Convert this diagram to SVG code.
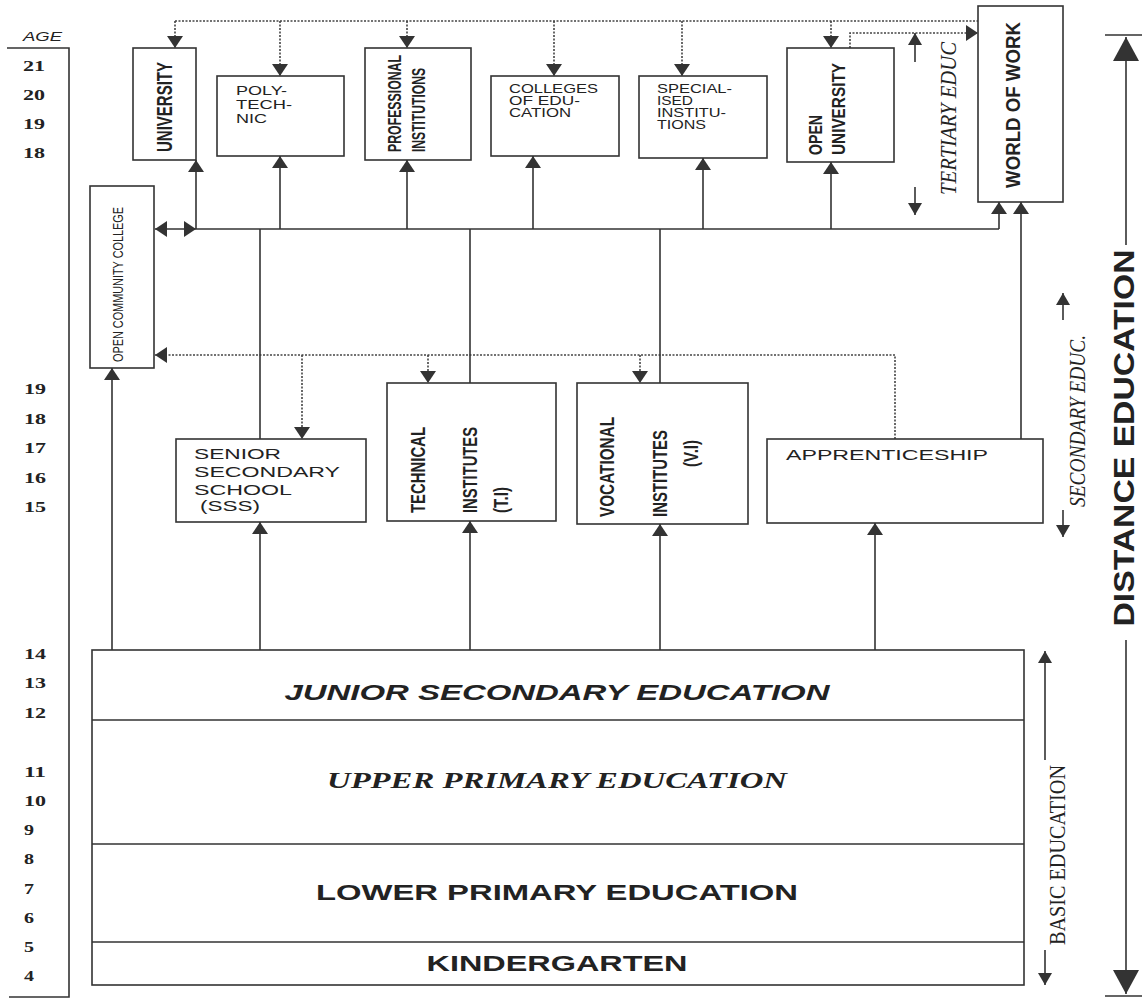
<svg xmlns="http://www.w3.org/2000/svg" width="1142" height="1000" viewBox="0 0 1142 1000">
<style>
.bx{fill:#fff;stroke:#333;stroke-width:1.6}
.ln{fill:none;stroke:#333;stroke-width:1.6}
.dt{fill:none;stroke:#444;stroke-width:1.6;stroke-dasharray:2 1.5}
.ax{fill:none;stroke:#333;stroke-width:1.6}
.age{font-family:"Liberation Serif",serif;font-weight:bold;font-size:15px;fill:#222}
.s{font-family:"Liberation Sans",Arial,sans-serif;fill:#222}
.sb{font-family:"Liberation Sans",Arial,sans-serif;font-weight:bold;fill:#222}
.ti{font-family:"Liberation Serif",serif;font-style:italic;fill:#222}
.tr{font-family:"Liberation Serif",serif;fill:#222}
</style>
<defs>
<marker id="ah" viewBox="0 0 12 16" refX="12" refY="8" markerWidth="12" markerHeight="16" markerUnits="userSpaceOnUse" orient="auto-start-reverse"><path d="M0,0 L12,8 L0,16 z" fill="#333"/></marker>
<marker id="ahs" viewBox="0 0 12 14" refX="12" refY="7" markerWidth="12" markerHeight="14" markerUnits="userSpaceOnUse" orient="auto-start-reverse"><path d="M0,0 L12,7 L0,14 z" fill="#333"/></marker>
<marker id="ahb" viewBox="0 0 24 26" refX="24" refY="13" markerWidth="24" markerHeight="26" markerUnits="userSpaceOnUse" orient="auto-start-reverse"><path d="M0,0 L24,13 L0,26 z" fill="#333"/></marker>
</defs>
<rect width="1142" height="1000" fill="#fff"/>

<g id="age-axis">
<text x="23" y="41" class="s" font-style="italic" font-size="12" textLength="39" lengthAdjust="spacingAndGlyphs">AGE</text>
<path class="ax" d="M7,48 H69 V997 H9"/>
<text class="age" x="23" y="71" textLength="22" lengthAdjust="spacingAndGlyphs">21</text>
<text class="age" x="23" y="100" textLength="22" lengthAdjust="spacingAndGlyphs">20</text>
<text class="age" x="23" y="129" textLength="22" lengthAdjust="spacingAndGlyphs">19</text>
<text class="age" x="23" y="158" textLength="22" lengthAdjust="spacingAndGlyphs">18</text>
<text class="age" x="24" y="394" textLength="22" lengthAdjust="spacingAndGlyphs">19</text>
<text class="age" x="24" y="424" textLength="22" lengthAdjust="spacingAndGlyphs">18</text>
<text class="age" x="24" y="453" textLength="22" lengthAdjust="spacingAndGlyphs">17</text>
<text class="age" x="24" y="483" textLength="22" lengthAdjust="spacingAndGlyphs">16</text>
<text class="age" x="24" y="512" textLength="22" lengthAdjust="spacingAndGlyphs">15</text>
<text class="age" x="24" y="659" textLength="22" lengthAdjust="spacingAndGlyphs">14</text>
<text class="age" x="24" y="688" textLength="22" lengthAdjust="spacingAndGlyphs">13</text>
<text class="age" x="24" y="718" textLength="22" lengthAdjust="spacingAndGlyphs">12</text>
<text class="age" x="24" y="777" textLength="22" lengthAdjust="spacingAndGlyphs">11</text>
<text class="age" x="24" y="806" textLength="22" lengthAdjust="spacingAndGlyphs">10</text>
<text class="age" x="24" y="835" textLength="10" lengthAdjust="spacingAndGlyphs">9</text>
<text class="age" x="24" y="864" textLength="10" lengthAdjust="spacingAndGlyphs">8</text>
<text class="age" x="24" y="894" textLength="10" lengthAdjust="spacingAndGlyphs">7</text>
<text class="age" x="24" y="923" textLength="10" lengthAdjust="spacingAndGlyphs">6</text>
<text class="age" x="24" y="952" textLength="10" lengthAdjust="spacingAndGlyphs">5</text>
<text class="age" x="24" y="981" textLength="10" lengthAdjust="spacingAndGlyphs">4</text>
</g>

<g id="connectors">
<path class="dt" d="M175,21 H978"/>
<path class="dt" d="M175,21 V48" marker-end="url(#ah)"/>
<path class="dt" d="M280,21 V76" marker-end="url(#ah)"/>
<path class="dt" d="M407,21 V48" marker-end="url(#ah)"/>
<path class="dt" d="M554,21 V76" marker-end="url(#ah)"/>
<path class="dt" d="M682,21 V76" marker-end="url(#ah)"/>
<path class="dt" d="M831,21 V48" marker-end="url(#ah)"/>
<path class="dt" d="M850,48 V33 H978" marker-end="url(#ah)"/>
<path class="dt" d="M895,439 V355 H155" marker-end="url(#ah)"/>
<path class="dt" d="M302,355 V439" marker-end="url(#ah)"/>
<path class="dt" d="M428,355 V383" marker-end="url(#ah)"/>
<path class="dt" d="M640,355 V383" marker-end="url(#ah)"/>
<path class="ln" d="M196,229 H999"/>
<path class="ln" d="M155,229 H196" marker-start="url(#ah)" marker-end="url(#ah)"/>
<path class="ln" d="M196,229 V160" marker-end="url(#ah)"/>
<path class="ln" d="M280,229 V156" marker-end="url(#ah)"/>
<path class="ln" d="M407,229 V160" marker-end="url(#ah)"/>
<path class="ln" d="M533,229 V156" marker-end="url(#ah)"/>
<path class="ln" d="M703,229 V158" marker-end="url(#ah)"/>
<path class="ln" d="M831,229 V162" marker-end="url(#ah)"/>
<path class="ln" d="M999,229 V202" marker-end="url(#ah)"/>
<path class="ln" d="M1021,439 V202" marker-end="url(#ah)"/>
<path class="ln" d="M260,229 V439"/>
<path class="ln" d="M470,229 V383"/>
<path class="ln" d="M660,229 V383"/>
<path class="ln" d="M112,650 V368" marker-end="url(#ah)"/>
<path class="ln" d="M260,650 V522" marker-end="url(#ah)"/>
<path class="ln" d="M470,650 V521" marker-end="url(#ah)"/>
<path class="ln" d="M660,650 V524" marker-end="url(#ah)"/>
<path class="ln" d="M875,650 V523" marker-end="url(#ah)"/>
</g>

<g id="university">
<rect class="bx" x="133" y="48" width="63" height="112"/>
<text class="sb" font-size="22" text-anchor="middle" transform="translate(172,107) rotate(-90)" textLength="90" lengthAdjust="spacingAndGlyphs">UNIVERSITY</text>
</g>
<g id="polytechnic">
<rect class="bx" x="217" y="76" width="127" height="80"/>
<text class="s" font-size="13"><tspan x="236" y="95" textLength="51" lengthAdjust="spacingAndGlyphs">POLY-</tspan><tspan x="236" y="109" textLength="56" lengthAdjust="spacingAndGlyphs">TECH-</tspan><tspan x="236" y="123" textLength="31" lengthAdjust="spacingAndGlyphs">NIC</tspan></text>
</g>
<g id="professional-institutions">
<rect class="bx" x="365" y="48" width="106" height="112"/>
<text class="sb" font-size="19" text-anchor="middle" transform="translate(401,103.5) rotate(-90)" textLength="97" lengthAdjust="spacingAndGlyphs">PROFESSIONAL</text>
<text class="sb" font-size="19" text-anchor="middle" transform="translate(425,110) rotate(-90)" textLength="84" lengthAdjust="spacingAndGlyphs">INSTITUTIONS</text>
</g>
<g id="colleges-of-education">
<rect class="bx" x="491" y="76" width="128" height="80"/>
<text class="s" font-size="12"><tspan x="509" y="93" textLength="89" lengthAdjust="spacingAndGlyphs">COLLEGES</tspan><tspan x="509" y="105" textLength="71" lengthAdjust="spacingAndGlyphs">OF EDU-</tspan><tspan x="509" y="117" textLength="62" lengthAdjust="spacingAndGlyphs">CATION</tspan></text>
</g>
<g id="specialised-institutions">
<rect class="bx" x="639" y="76" width="128" height="82"/>
<text class="s" font-size="12"><tspan x="657" y="93" textLength="75" lengthAdjust="spacingAndGlyphs">SPECIAL-</tspan><tspan x="657" y="105" textLength="36" lengthAdjust="spacingAndGlyphs">ISED</tspan><tspan x="657" y="117" textLength="69" lengthAdjust="spacingAndGlyphs">INSTITU-</tspan><tspan x="657" y="129" textLength="49" lengthAdjust="spacingAndGlyphs">TIONS</tspan></text>
</g>
<g id="open-university">
<rect class="bx" x="787" y="48" width="107" height="114"/>
<text class="sb" font-size="18" text-anchor="middle" transform="translate(822,135) rotate(-90)" textLength="40" lengthAdjust="spacingAndGlyphs">OPEN</text>
<text class="sb" font-size="18" text-anchor="middle" transform="translate(845,109) rotate(-90)" textLength="92" lengthAdjust="spacingAndGlyphs">UNIVERSITY</text>
</g>
<g id="world-of-work">
<rect class="bx" x="978" y="6" width="85" height="196"/>
<text class="sb" font-size="21" text-anchor="middle" transform="translate(1020,105) rotate(-90)" textLength="166" lengthAdjust="spacingAndGlyphs">WORLD OF WORK</text>
</g>
<g id="tertiary-educ">
<path class="ln" d="M915,62 V33" marker-end="url(#ahs)"/>
<path class="ln" d="M915,187 V215" marker-end="url(#ahs)"/>
<text class="ti" font-size="24" text-anchor="middle" transform="translate(956,118.5) rotate(-90)" textLength="153" lengthAdjust="spacingAndGlyphs">TERTIARY EDUC</text>
</g>
<g id="open-community-college">
<rect class="bx" x="90" y="186" width="64" height="182"/>
<text class="s" font-size="14" text-anchor="middle" transform="translate(123,284.5) rotate(-90)" textLength="155" lengthAdjust="spacingAndGlyphs">OPEN COMMUNITY COLLEGE</text>
</g>
<g id="senior-secondary-school">
<rect class="bx" x="176" y="439" width="190" height="83"/>
<text class="s" font-size="14"><tspan x="194" y="459" textLength="87" lengthAdjust="spacingAndGlyphs">SENIOR</tspan><tspan x="194" y="477" textLength="146" lengthAdjust="spacingAndGlyphs">SECONDARY</tspan><tspan x="194" y="495" textLength="98" lengthAdjust="spacingAndGlyphs">SCHOOL</tspan><tspan x="200" y="511" textLength="60" lengthAdjust="spacingAndGlyphs">(SSS)</tspan></text>
</g>
<g id="technical-institutes">
<rect class="bx" x="387" y="383" width="169" height="138"/>
<text class="sb" font-size="20" text-anchor="middle" transform="translate(424.5,470) rotate(-90)" textLength="86" lengthAdjust="spacingAndGlyphs">TECHNICAL</text>
<text class="sb" font-size="20" text-anchor="middle" transform="translate(477,470) rotate(-90)" textLength="86" lengthAdjust="spacingAndGlyphs">INSTITUTES</text>
<text class="sb" font-size="20" text-anchor="middle" transform="translate(508,500) rotate(-90)" textLength="26" lengthAdjust="spacingAndGlyphs">(T.I)</text>
</g>
<g id="vocational-institutes">
<rect class="bx" x="577" y="383" width="171" height="141"/>
<text class="sb" font-size="20" text-anchor="middle" transform="translate(614,467) rotate(-90)" textLength="100" lengthAdjust="spacingAndGlyphs">VOCATIONAL</text>
<text class="sb" font-size="20" text-anchor="middle" transform="translate(667,473.5) rotate(-90)" textLength="87" lengthAdjust="spacingAndGlyphs">INSTITUTES</text>
<text class="sb" font-size="20" text-anchor="middle" transform="translate(698,453.5) rotate(-90)" textLength="27" lengthAdjust="spacingAndGlyphs">(V.I)</text>
</g>
<g id="apprenticeship">
<rect class="bx" x="767" y="439" width="276" height="84"/>
<text class="s" font-size="14" x="786" y="460" textLength="202" lengthAdjust="spacingAndGlyphs">APPRENTICESHIP</text>
</g>
<g id="secondary-educ">
<path class="ln" d="M1063,320 V293" marker-end="url(#ahs)"/>
<path class="ln" d="M1063,510 V537" marker-end="url(#ahs)"/>
<text class="ti" font-size="24" text-anchor="middle" transform="translate(1085,421) rotate(-90)" textLength="172" lengthAdjust="spacingAndGlyphs">SECONDARY EDUC.</text>
</g>
<g id="basic-levels">
<rect class="bx" x="92" y="650" width="932" height="335"/>
<path class="ln" d="M92,720 H1024 M92,844 H1024 M92,942 H1024"/>
<text class="sb" font-style="italic" font-size="22" x="557" y="700" text-anchor="middle" textLength="545" lengthAdjust="spacingAndGlyphs">JUNIOR SECONDARY EDUCATION</text>
<text class="ti" font-weight="bold" font-size="23" x="557" y="788" text-anchor="middle" textLength="460" lengthAdjust="spacingAndGlyphs">UPPER PRIMARY EDUCATION</text>
<text class="sb" font-size="22" x="557" y="900" text-anchor="middle" textLength="482" lengthAdjust="spacingAndGlyphs">LOWER PRIMARY EDUCATION</text>
<text class="sb" font-size="22" x="557" y="971" text-anchor="middle" textLength="261" lengthAdjust="spacingAndGlyphs">KINDERGARTEN</text>
</g>
<g id="basic-education">
<path class="ln" d="M1045,760 V651" marker-end="url(#ahs)"/>
<path class="ln" d="M1045,950 V985" marker-end="url(#ahs)"/>
<text class="tr" font-size="24" text-anchor="middle" transform="translate(1065,855) rotate(-90)" textLength="180" lengthAdjust="spacingAndGlyphs">BASIC EDUCATION</text>
</g>
<g id="distance-education">
<path class="ln" stroke-width="2.5" d="M1105,35 H1142 M1105,996 H1142"/>
<path class="ln" stroke-width="5" d="M1126,245 V37" marker-end="url(#ahb)"/>
<path class="ln" stroke-width="5" d="M1126,640 V994" marker-end="url(#ahb)"/>
<text class="sb" font-size="30" text-anchor="middle" transform="translate(1134,438) rotate(-90)" textLength="377" lengthAdjust="spacingAndGlyphs">DISTANCE EDUCATION</text>
</g>
</svg>
